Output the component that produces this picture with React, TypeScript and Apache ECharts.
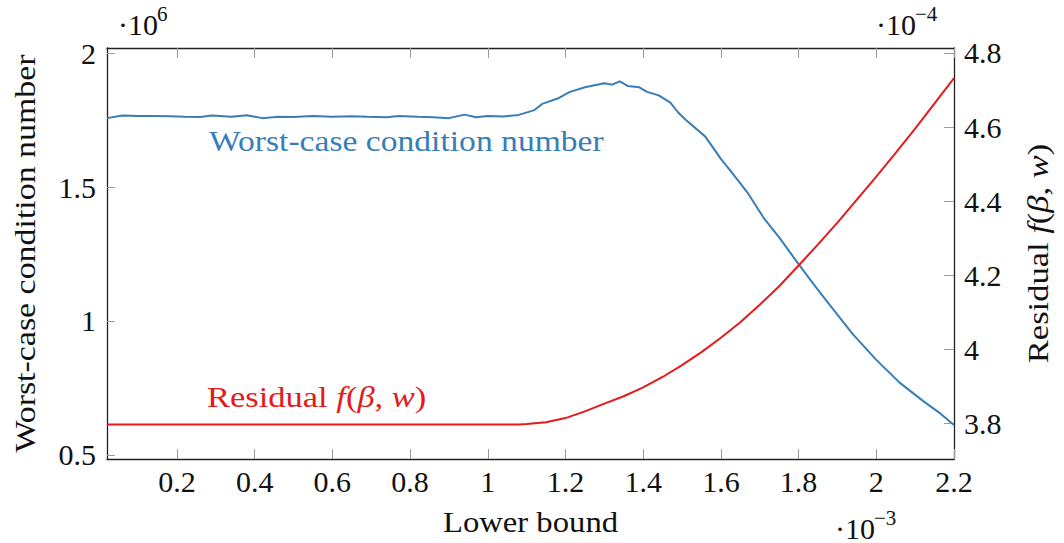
import React, { useEffect, useRef } from "react";
import * as echarts from "echarts";

// Lower bound (×10⁻³) sampled for the worst-case condition number (×10⁶)
const lowerBoundCond = [
  0.02, 0.06, 0.1, 0.14, 0.18, 0.22, 0.26, 0.29, 0.34, 0.38, 0.42, 0.46, 0.5, 0.55, 0.6,
  0.65, 0.69, 0.74, 0.77, 0.82, 0.86, 0.9, 0.94, 0.97, 1.0, 1.04, 1.08, 1.12, 1.14, 1.18,
  1.21, 1.25, 1.3, 1.32, 1.34, 1.36, 1.39, 1.41, 1.44, 1.47, 1.49, 1.51, 1.56, 1.6, 1.63,
  1.67, 1.71, 1.75, 1.8, 1.84, 1.88, 1.94, 2.0, 2.06, 2.12, 2.16, 2.2,
];
const conditionNumber = [
  1.757, 1.767, 1.765, 1.765, 1.764, 1.762, 1.761, 1.767, 1.762, 1.768, 1.757, 1.762, 1.761,
  1.765, 1.762, 1.764, 1.762, 1.76, 1.765, 1.762, 1.76, 1.757, 1.77, 1.76, 1.765, 1.763, 1.769,
  1.787, 1.81, 1.83, 1.854, 1.872, 1.887, 1.882, 1.894, 1.877, 1.872, 1.855, 1.842, 1.815,
  1.778, 1.75, 1.688, 1.605, 1.551, 1.476, 1.385, 1.312, 1.212, 1.135, 1.06, 0.95, 0.855,
  0.77, 0.702, 0.66, 0.612,
];

// Lower bound (×10⁻³) sampled for the residual f(β, w) (×10⁻⁴)
const lowerBoundRes = [
  0.02, 1.08, 1.1, 1.15, 1.2, 1.25, 1.3, 1.35, 1.4, 1.45, 1.5, 1.55, 1.6, 1.65, 1.7, 1.75,
  1.8, 1.85, 1.9, 1.95, 2.0, 2.05, 2.1, 2.15, 2.2,
];
const residual = [
  3.797, 3.797, 3.798, 3.803, 3.814, 3.832, 3.853, 3.873, 3.897, 3.925, 3.957, 3.992, 4.031,
  4.073, 4.12, 4.17, 4.226, 4.283, 4.342, 4.404, 4.466, 4.53, 4.596, 4.664, 4.732,
];

// Tick positions and their labels
const xTickValues = [0.2, 0.4, 0.6, 0.8, 1.0, 1.2, 1.4, 1.6, 1.8, 2.0, 2.2];
const xTickLabels = ["0.2", "0.4", "0.6", "0.8", "1", "1.2", "1.4", "1.6", "1.8", "2", "2.2"];
const leftTickValues = [0.5, 1.0, 1.5, 2.0];
const leftTickLabels = ["0.5", "1", "1.5", "2"];
const rightTickValues = [3.8, 4.0, 4.2, 4.4, 4.6, 4.8];
const rightTickLabels = ["3.8", "4", "4.2", "4.4", "4.6", "4.8"];

const BLUE = "#377eb8";
const RED = "#e41a1c";
const FONT = "Liberation Serif, Times New Roman, serif";
const FRAME = "#222222";
const TICK = "#9a9a9a";

const labelFor = (values: number[], labels: string[]) => (v: number) => {
  const i = values.findIndex((t) => Math.abs(t - v) < 1e-9);
  return i >= 0 ? labels[i] : "";
};

const text = (
  x: number,
  y: number,
  content: string,
  opts: { size?: number; fill?: string; align?: string; rotation?: number; scaleX?: number; rich?: any } = {}
) => ({
  type: "text",
  x,
  y,
  rotation: opts.rotation ?? 0,
  scaleX: opts.scaleX ?? 1,
  silent: true,
  style: {
    text: content,
    fill: opts.fill ?? "#111",
    fontFamily: FONT,
    fontSize: opts.size ?? 30,
    align: opts.align ?? "left",
    textAlign: opts.align ?? "left",
    verticalAlign: "middle",
    textVerticalAlign: "middle",
    rich: opts.rich,
  },
});

const residualRich = (color: string) => ({
  n: { fontFamily: FONT, fontSize: 30, fill: color, color },
  i: { fontFamily: FONT, fontSize: 30, fontStyle: "italic", fill: color, color },
});
const residualText = "{n|Residual }{i|f}{n|(}{i|β}{n|, }{i|w}{n|)}";

export default function App() {
  const ref = useRef<HTMLDivElement>(null);

  useEffect(() => {
    if (!ref.current) return;
    const chart = echarts.init(ref.current, undefined, { renderer: "svg" });

    const tickLabelStyle = { fontFamily: FONT, fontSize: 30, color: "#111" };
    const xMin = 0.02;
    const xMax = 2.2;

    chart.setOption({
      animation: false,
      backgroundColor: "#ffffff",
      textStyle: { fontFamily: FONT },
      grid: { left: 107, right: 110, top: 48, bottom: 84, containLabel: false },
      xAxis: [
        {
          type: "value",
          position: "bottom",
          min: xMin,
          max: xMax,
          axisLine: { show: true, onZero: false, lineStyle: { color: FRAME, width: 1.3 } },
          axisTick: { show: true, inside: true, length: 10, customValues: xTickValues, lineStyle: { color: TICK, width: 1 } },
          axisLabel: { ...tickLabelStyle, margin: 7, customValues: xTickValues, formatter: labelFor(xTickValues, xTickLabels) },
          splitLine: { show: false },
        },
        {
          type: "value",
          position: "top",
          min: xMin,
          max: xMax,
          axisLine: { show: true, onZero: false, lineStyle: { color: FRAME, width: 1.3 } },
          axisTick: { show: true, inside: true, length: 10, customValues: xTickValues, lineStyle: { color: TICK, width: 1 } },
          axisLabel: { show: false },
          splitLine: { show: false },
        },
      ],
      yAxis: [
        {
          type: "value",
          position: "left",
          min: 0.485,
          max: 2.0187,
          axisLine: { show: true, onZero: false, lineStyle: { color: FRAME, width: 1.3 } },
          axisTick: { show: true, inside: true, length: 8, customValues: leftTickValues, lineStyle: { color: TICK, width: 1 } },
          axisLabel: { ...tickLabelStyle, margin: 11, customValues: leftTickValues, formatter: labelFor(leftTickValues, leftTickLabels) },
          splitLine: { show: false },
        },
        {
          type: "value",
          position: "right",
          min: 3.7035,
          max: 4.8135,
          axisLine: { show: true, onZero: false, lineStyle: { color: FRAME, width: 1.3 } },
          axisTick: { show: true, inside: true, length: 10, customValues: rightTickValues, lineStyle: { color: TICK, width: 1 } },
          axisLabel: { ...tickLabelStyle, margin: 10, customValues: rightTickValues, formatter: labelFor(rightTickValues, rightTickLabels) },
          splitLine: { show: false },
        },
      ],
      series: [
        {
          name: "Worst-case condition number",
          type: "line",
          xAxisIndex: 0,
          yAxisIndex: 0,
          data: lowerBoundCond.map((x, i) => [x, conditionNumber[i]]),
          showSymbol: false,
          lineStyle: { color: BLUE, width: 2 },
          itemStyle: { color: BLUE },
        },
        {
          name: "Residual f(β, w)",
          type: "line",
          xAxisIndex: 0,
          yAxisIndex: 1,
          data: lowerBoundRes.map((x, i) => [x, residual[i]]),
          showSymbol: false,
          lineStyle: { color: RED, width: 2 },
          itemStyle: { color: RED },
        },
      ],
      graphic: {
        elements: [
          // in-plot curve labels
          text(209, 141, "Worst-case condition number", { fill: BLUE, scaleX: 1.12 }),
          text(207, 397, residualText, { fill: RED, scaleX: 1.15, rich: residualRich(RED) }),
          // axis titles
          text(530.5, 522, "Lower bound", { align: "center", scaleX: 1.09 }),
          text(25, 253.5, "Worst-case condition number", { align: "center", rotation: Math.PI / 2, scaleX: 1.13 }),
          text(1038, 253.5, residualText, { align: "center", rotation: Math.PI / 2, scaleX: 1.15, rich: residualRich("#111") }),
          // scale multipliers
          text(118, 24, "·10"),
          text(157, 14, "6", { size: 21 }),
          text(876, 24, "·10"),
          text(915, 14, "−4", { size: 21 }),
          text(835, 528, "·10"),
          text(874, 518, "−3", { size: 21 }),
        ],
      },
    });

    return () => chart.dispose();
  }, []);

  return (
    <div
      ref={ref}
      style={{ position: "absolute", left: 0, top: 0, width: 1064, height: 543, background: "#fff" }}
    />
  );
}
